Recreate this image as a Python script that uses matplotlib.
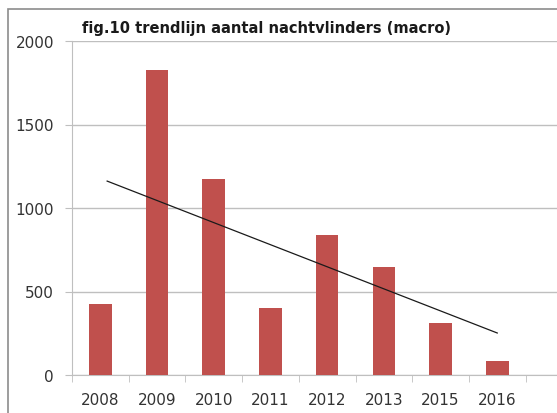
import matplotlib
matplotlib.use("Agg")
import matplotlib.pyplot as plt
import numpy as np
from matplotlib.patches import Rectangle

years = ["2008", "2009", "2010", "2011", "2012", "2013", "2015", "2016"]
counts = [425, 1828, 1176, 401, 840, 647, 311, 86]
yticks = [0, 500, 1000, 1500, 2000]
title = "fig.10 trendlijn aantal nachtvlinders (macro)"

plt.rcParams['font.family'] = ['DejaVu Sans']

W, H = 557, 414
fig = plt.figure(figsize=(W / 100, H / 100), dpi=100)
fig.patch.set_facecolor('white')

# outer chart frame (cropped at right/bottom)
fig.add_artist(Rectangle((8 / W, -0.05), 1.2, (H - 10) / H + 0.05,
                         transform=fig.transFigure, fill=False,
                         edgecolor='#8c8c8c', linewidth=1.2))

ax = fig.add_axes([72 / W, 38 / H, 485 / W, 334 / H])
x = np.arange(len(years))
ax.bar(x, counts, width=0.4, color='#C0504D', zorder=3)

coef = np.polyfit(x, counts, 1)
ax.plot([x[0] + 0.12, x[-1]], np.polyval(coef, [x[0] + 0.12, x[-1]]),
        color='#1a1a1a', linewidth=0.9, zorder=4)

ax.set_ylim(0, 2000)
ax.set_xlim(-0.5, -0.5 + 485 / 56.7)
ax.set_yticks(yticks)
ax.set_yticklabels([str(v) for v in yticks], fontsize=11, color='#333333')
ax.yaxis.grid(True, color='#bfbfbf', linewidth=1, zorder=0)
ax.tick_params(axis='y', length=5, color='#bfbfbf', pad=8)

ax.set_xticks(x)
ax.set_xticklabels(years, fontsize=11, color='#333333')
ax.set_xticks(np.arange(len(years) + 1) - 0.5, minor=True)
ax.tick_params(axis='x', which='major', length=0, pad=12)
ax.tick_params(axis='x', which='minor', length=5, color='#bfbfbf')

for s in ['top', 'right']:
    ax.spines[s].set_visible(False)
ax.spines['left'].set_color('#bfbfbf')
ax.spines['bottom'].set_color('#bfbfbf')

fig.text(82 / W, 1 - 28 / H, title, fontsize=10.5, fontweight='bold',
         color='#1a1a1a', ha='left', va='center')

fig.savefig("out.png", dpi=100)
